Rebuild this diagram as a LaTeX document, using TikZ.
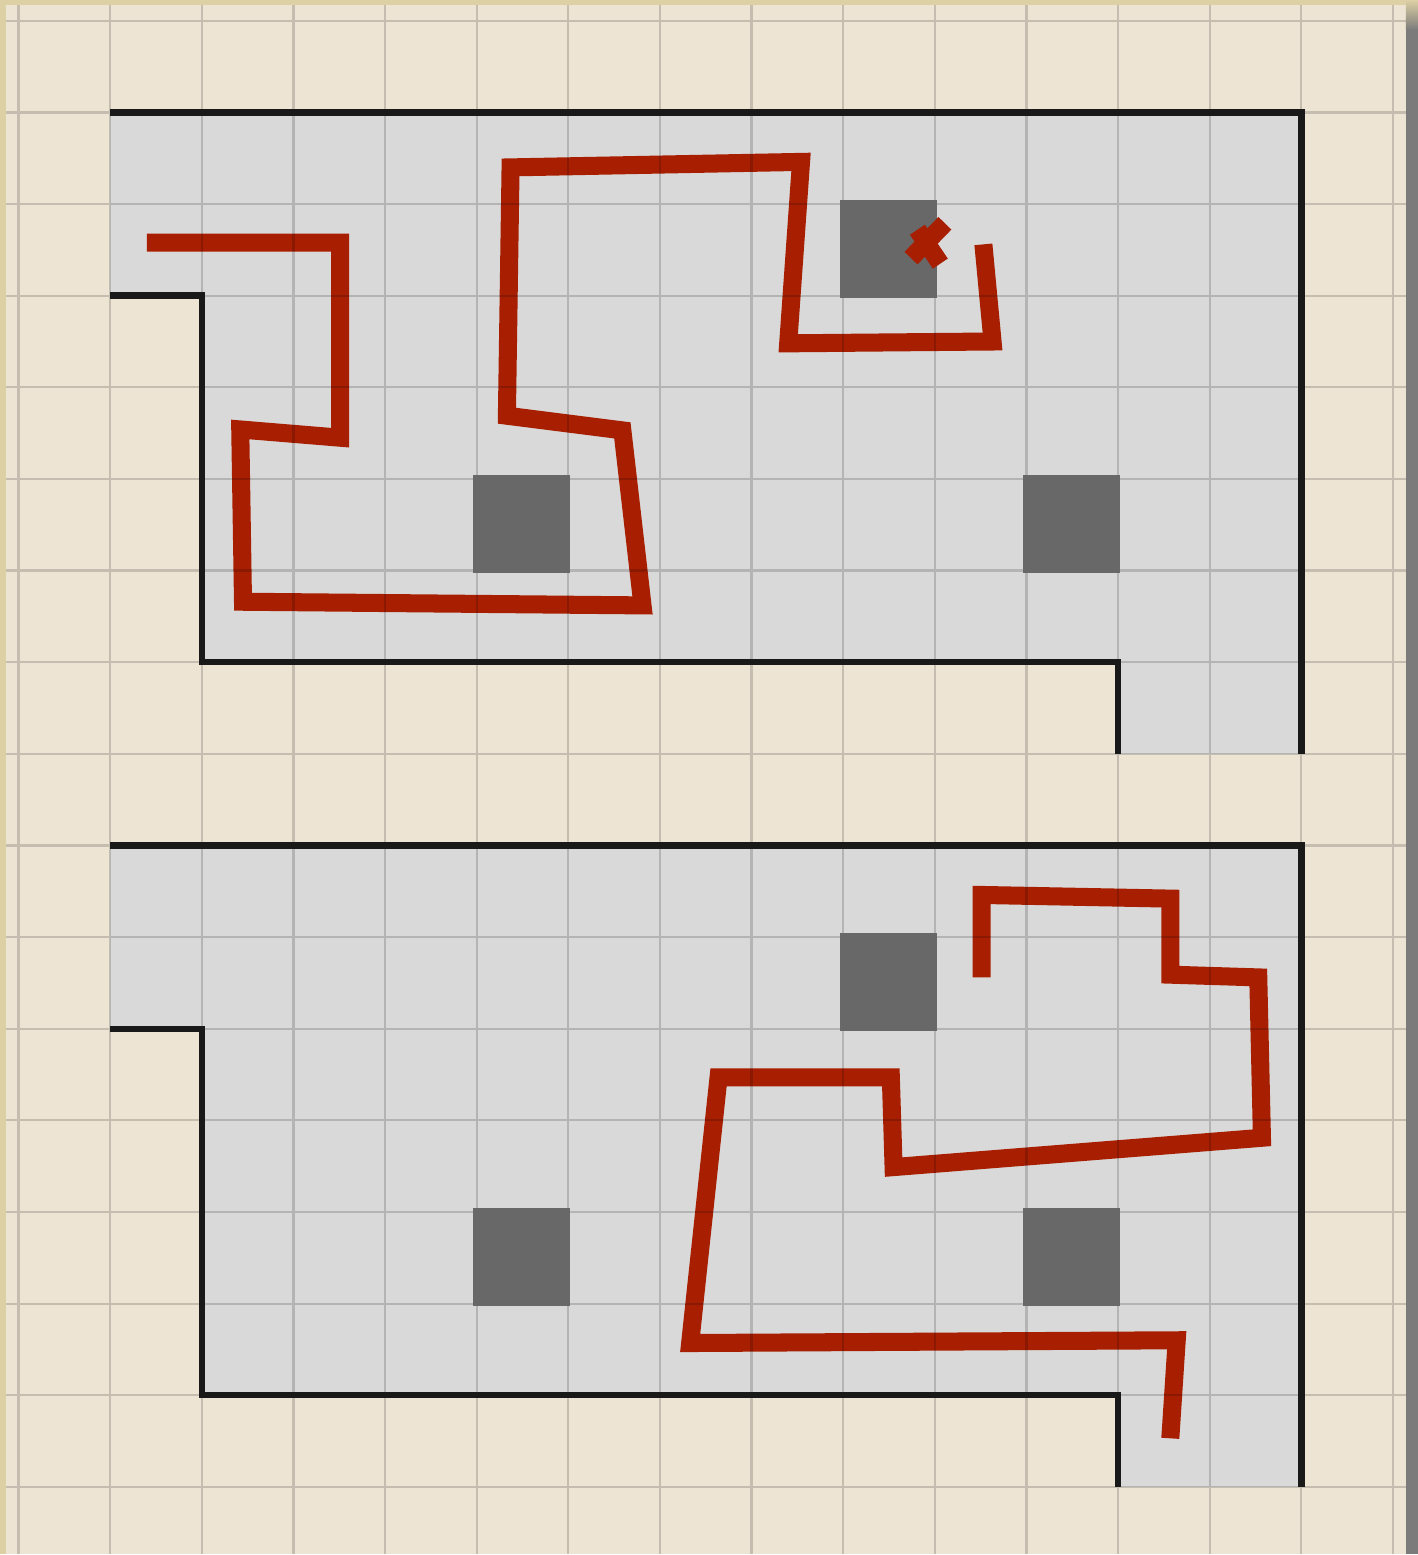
\documentclass[tikz,border=0pt]{standalone}
\usepackage{tikz}
\usetikzlibrary{calc}
\definecolor{paper}{HTML}{EEE4D3}
\definecolor{tanedge}{HTML}{DDD0A4}
\definecolor{floorgray}{HTML}{D9D9D9}
\definecolor{block}{HTML}{686868}
\definecolor{routered}{HTML}{A81E00}
\definecolor{shadow}{HTML}{7B7B7B}
\begin{document}
\begin{tikzpicture}[wall/.style={draw=black!90,line width=2pt},route/.style={draw=routered,line width=5.6pt},gridline/.style={draw=black,opacity=0.17,line width=0.7pt}]
\fill[tanedge] (-0.202,-0.731) rectangle (15.273,16.227);
\fill[paper] (-0.136,-0.731) rectangle (15.142,16.172);
\fill[shadow] (15.142,-0.731) rectangle (15.273,15.9);
\shade[top color=tanedge,bottom color=shadow] (15.142,15.9) rectangle (15.273,16.227);
\fill[floorgray] (1,15)--(14,15)--(14,8)--(12,8)--(12,9)--(2,9)--(2,13)--(1,13)--cycle;
\fill[floorgray] (1,7)--(14,7)--(14,0)--(12,0)--(12,1)--(2,1)--(2,5)--(1,5)--cycle;
\draw[route] (1.40,13.58)--(3.51,13.58)--(3.51,11.45)--(2.42,11.54)--(2.45,9.66)--(6.81,9.62)--(6.59,11.53)--(5.33,11.69)--(5.37,14.40)--(8.54,14.46)--(8.40,12.48)--(10.63,12.50)--(10.53,13.56);
\draw[route] (10.51,5.56)--(10.51,6.46)--(12.57,6.42)--(12.57,5.59)--(13.53,5.56)--(13.57,3.81)--(9.55,3.49)--(9.52,4.47)--(7.64,4.47)--(7.33,1.57)--(12.64,1.60)--(12.57,0.53);
\draw[gridline,step=1] (-0.136,-0.731) grid (15.142,16.172);
\foreach \bx/\by in {9/13,5/10,11/10,9/5,5/2,11/2}
  \fill[block] (\bx-0.04,\by-0.03) rectangle (\bx+1.02,\by+1.04);
% crash mark
\draw[route] (10.11,13.79)--(9.74,13.41);
\draw[route] (9.81,13.72)--(10.06,13.35);
\draw[wall] (1,13)--(2,13)--(2,9)--(12,9)--(12,8);
\draw[wall] (1,15)--(14,15)--(14,8);
\draw[wall] (1,5)--(2,5)--(2,1)--(12,1)--(12,0);
\draw[wall] (1,7)--(14,7)--(14,0);
\end{tikzpicture}
\end{document}
